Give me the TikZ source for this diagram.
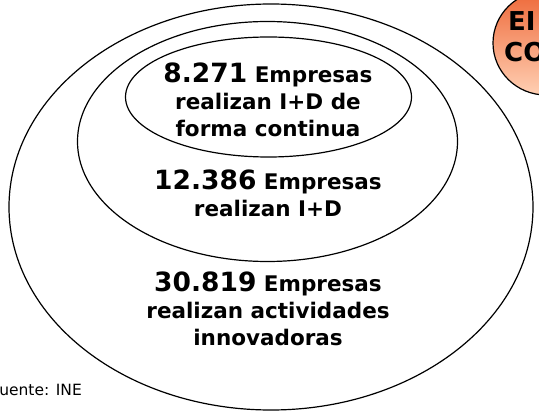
\documentclass[tikz,border=0pt]{standalone}
\usepackage{fontspec}
\setmainfont{DejaVu Sans}
\newcommand{\bignum}[1]{{\fontsize{26.5}{27}\selectfont #1}}
\begin{document}
\begin{tikzpicture}[
  x=1pt, y=1pt,
  ring/.style={draw=black, line width=1.2pt},
  settext/.style={align=center, font=\fontsize{21.5}{27}\selectfont\bfseries, inner sep=0pt},
]

% ---- Canvas: pixel frame 539 x 413 ----
\useasboundingbox (0,0) rectangle (539,413);
\clip (0,0) rectangle (539,413);

% ---- Nested sets ----
\draw[ring] (271,206) ellipse [x radius=262, y radius=203];
\draw[ring] (267.5,271.5) ellipse [x radius=190, y radius=120];
\draw[ring] (268.5,316) ellipse [x radius=143, y radius=60];

% ---- Set labels ----
\node[settext] (continua) at (268,313) {\bignum{8.271} Empresas\\ realizan I+D de\\ forma continua};
\node[settext] (imasd) at (268,220) {\bignum{12.386} Empresas\\ realizan I+D};
\node[settext] (innova) at (268,104) {\bignum{30.819} Empresas\\ realizan actividades\\ innovadoras};

% ---- Corner badge ----
\shade[top color={rgb,255:red,238;green,104;blue,56},
       bottom color={rgb,255:red,255;green,208;blue,180},
       draw=black, line width=1.2pt] (546,370) ellipse [x radius=53, y radius=52];
\node[anchor=west, inner sep=0pt, font=\fontsize{26}{30}\selectfont\bfseries] (badgeA) at (508,392) {EI};
\node[anchor=west, inner sep=0pt, font=\fontsize{26}{30}\selectfont\bfseries] (badgeB) at (504,361) {CO};

% ---- Source ----
\node[anchor=base west, inner sep=0pt, font=\fontsize{15.5}{18}\selectfont] (fuente) at (-9,18) {Fuente: INE};

\end{tikzpicture}
\end{document}
